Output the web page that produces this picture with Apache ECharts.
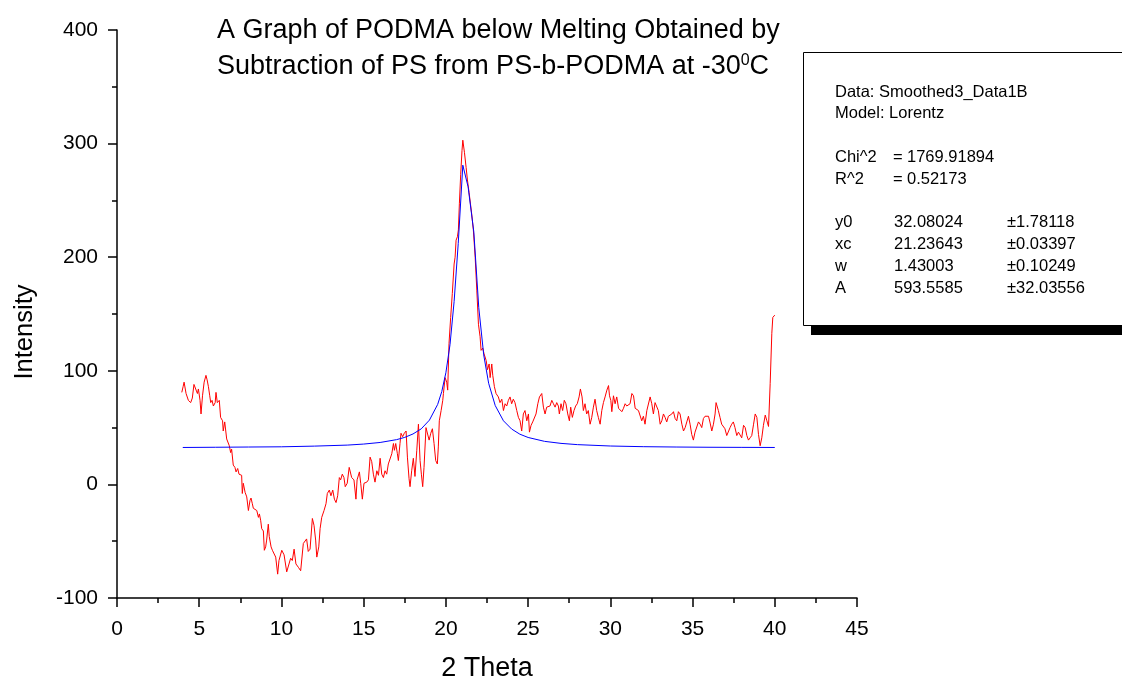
<!DOCTYPE html>
<html><head><meta charset="utf-8">
<script src="https://cdn.jsdelivr.net/npm/echarts@6/dist/echarts.min.js"></script>
<style>html,body{margin:0;padding:0;background:#fff}#c{width:1122px;height:684px}</style>
</head><body><div id="c"></div>
<script>
const redTheta = [3.94,4.02,4.08,4.2,4.34,4.48,4.58,4.68,4.8,4.89,4.95,5.05,5.11,5.2,5.3,5.41,5.48,5.56,5.64,5.7,5.78,5.86,5.97,6.02,6.1,6.22,6.3,6.42,6.46,6.55,6.67,6.77,6.83,6.91,6.97,7.07,7.17,7.24,7.34,7.42,7.52,7.58,7.62,7.68,7.79,7.89,7.99,8.09,8.15,8.23,8.29,8.39,8.5,8.6,8.66,8.74,8.8,8.9,8.96,9.04,9.1,9.2,9.26,9.37,9.45,9.55,9.65,9.77,9.85,
10.02,10.16,10.32,10.42,10.56,10.66,10.77,10.88,11.03,11.17,11.33,11.43,11.53,11.63,11.74,11.88,11.98,12.08,12.15,12.27,12.35,12.45,12.59,12.71,12.79,12.91,13.01,13.12,13.22,13.32,13.42,13.52,13.6,13.7,13.8,13.88,14.0,14.12,14.2,14.27,14.41,14.53,14.6,14.74,14.82,14.92,15.02,15.19,15.29,15.39,15.49,15.59,15.69,15.8,15.9,16.0,16.1,16.2,16.3,16.4,16.5,16.6,16.71,16.81,16.87,16.95,17.05,17.11,17.21,17.27,17.37,17.47,17.58,17.66,17.76,17.82,17.92,18.02,18.12,18.23,18.33,18.43,18.51,18.59,18.67,18.79,18.87,18.98,19.08,19.18,19.28,19.38,19.48,19.54,19.6,19.71,19.81,19.85,19.95,
20.05,20.11,20.19,20.29,20.39,20.5,20.56,20.62,20.7,20.76,20.82,20.9,20.98,21.03,21.13,21.23,21.31,21.41,21.47,21.57,21.67,21.78,21.88,21.98,22.08,22.14,22.24,22.32,22.45,22.53,22.63,22.69,22.79,22.85,22.95,23.05,23.19,23.29,23.4,23.5,23.6,23.7,23.8,23.9,24.0,24.1,24.2,24.31,24.41,24.51,24.61,24.71,24.81,24.92,25.02,25.08,25.18,25.28,25.38,25.48,25.59,25.69,25.83,25.93,26.03,26.13,26.23,26.33,26.44,26.54,26.64,26.74,26.84,26.9,27.0,27.1,27.2,27.3,27.41,27.51,27.59,27.69,27.79,27.89,27.99,28.1,28.18,28.28,28.36,28.46,28.56,28.66,28.77,28.87,28.97,29.07,29.17,29.27,29.38,29.48,29.58,29.68,29.79,29.89,29.95,
30.03,30.09,30.19,30.29,30.39,30.5,30.6,30.7,30.8,30.9,31.0,31.1,31.2,31.31,31.41,31.51,31.61,31.71,31.81,31.91,32.01,32.11,32.22,32.32,32.42,32.52,32.62,32.72,32.82,32.92,33.03,33.13,33.23,33.33,33.43,33.53,33.64,33.74,33.84,33.94,34.04,34.14,34.24,34.35,34.45,34.55,34.65,34.75,34.85,34.95,35.05,35.15,35.26,35.36,35.46,35.56,35.66,35.76,35.86,35.97,36.07,36.17,36.27,36.37,36.43,36.51,36.57,36.67,36.77,36.87,36.97,37.08,37.18,37.28,37.38,37.48,37.58,37.69,37.79,37.89,37.99,38.1,38.2,38.3,38.4,38.5,38.6,38.71,38.81,38.91,39.01,39.11,39.21,39.31,39.42,39.52,39.62,39.72,39.82,39.88,40.0];
const redIntensity = [81,86,90,80,74,72,76,88,88,80,84,74,62,78,90,96,92,86,78,72,74,69,72,81,72,74,59,56,47,55,40,41,34,28,31,17,15,11,14,9,8,8,-8,1,-7,-11,-23,-14,-12,-17,-21,-20,-23,-29,-26,-32,-39,-41,-58,-55,-49,-35,-46,-55,-58,-58,-64,-79,-67,
-58,-62,-77,-76,-65,-67,-57,-70,-73,-76,-52,-53,-48,-59,-57,-30,-36,-49,-64,-55,-39,-29,-23,-17,-8,-5,-10,-5,-13,-16,-10,6,4,9,6,-2,1,15,16,6,4,-13,4,11,1,-13,1,2,4,24,20,9,2,12,8,23,9,6,12,9,18,17,27,36,30,36,27,21,36,45,42,45,47,24,5,-2,12,23,7,30,53,21,9,-2,15,50,50,39,45,49,36,21,18,33,56,65,74,80,94,
90,83,124,147,168,194,200,215,218,224,247,273,294,303,292,279,268,257,257,238,224,200,171,141,130,118,120,115,109,101,106,94,106,96,86,80,77,72,75,65,71,69,74,77,71,75,72,65,59,56,47,62,65,56,62,46,52,55,56,62,71,77,80,68,62,68,67,69,74,71,68,72,69,62,71,65,74,71,62,56,68,59,65,69,71,77,84,77,65,71,62,65,53,59,68,75,65,59,53,65,72,77,83,87,78,
74,64,78,71,77,67,68,64,67,71,69,68,71,80,78,67,67,65,65,56,60,53,65,64,77,71,62,72,71,65,53,56,62,59,55,60,59,62,64,58,56,64,62,53,47,50,55,60,53,44,39,46,46,55,53,50,58,60,59,60,54,47,53,62,72,71,65,59,53,53,49,43,44,50,53,55,50,43,46,47,41,52,50,43,39,41,43,53,62,59,44,34,41,52,61,56,51,89,133,147,149];

// Lorentz fit curve
const fitTheta = [4,6,8,10,12,14,15,16,17,17.5,18,18.5,19,19.5,19.75,20,20.25,20.5,20.75,21.03,21.35,21.7,22,22.3,22.6,23,23.5,24,24.5,25,26,27,28,30,32,34,36,38,40];
const fitIntensity = [32.5,32.7,32.9,33.1,33.7,34.6,35.5,36.9,39.4,41.4,44.4,48.9,56.6,70.4,81.7,98.3,123,161,212,281,262,222,155.6,114,89,69.4,56,48.7,44.2,41.3,37.9,36.1,35,33.8,33.2,32.9,32.7,32.6,32.5];

const titleLine1 = 'A Graph of PODMA below Melting Obtained by';
const titleLine2 = 'Subtraction of PS from PS-b-PODMA at -30';
const xName = '2 Theta';
const yName = 'Intensity';
const boxLines = [
  ['Data: Smoothed3_Data1B', '', '', ''],
  ['Model: Lorentz', '', '', ''],
  ['Chi^2', '=', '1769.91894', ''],
  ['R^2', '=', '0.52173', ''],
  ['y0', '', '32.08024', '\u00b11.78118'],
  ['xc', '', '21.23643', '\u00b10.03397'],
  ['w', '', '1.43003', '\u00b10.10249'],
  ['A', '', '593.5585', '\u00b132.03556']
];

const FONT = "'Liberation Sans', Arial, Helvetica, sans-serif";
const chart = echarts.init(document.getElementById('c'), null, {renderer: 'canvas'});

const boxY = [92, 113, 157, 179, 222.5, 244, 266, 288];
const BF = '16.5px ' + FONT;
const boxTexts = [];
boxLines.forEach((row, i) => {
  boxTexts.push({type: 'text', x: 835, y: boxY[i], style: {text: row[0], font: BF, fill: '#000', textVerticalAlign: 'middle'}});
  if (row[1]) boxTexts.push({type: 'text', x: 893, y: boxY[i], style: {text: row[1], font: BF, fill: '#000', textVerticalAlign: 'middle'}});
  if (row[2]) boxTexts.push({type: 'text', x: row[1] ? 907 : 894, y: boxY[i], style: {text: row[2], font: BF, fill: '#000', textVerticalAlign: 'middle'}});
  if (row[3]) boxTexts.push({type: 'text', x: 1007, y: boxY[i], style: {text: row[3], font: BF, fill: '#000', textVerticalAlign: 'middle'}});
});

const option = {
  animation: false,
  backgroundColor: '#fff',
  grid: {left: 117, right: 265, top: 30, bottom: 86, containLabel: false, outerBoundsMode: 'none'},
  xAxis: {
    type: 'value', min: 0, max: 45, interval: 5,
    axisLine: {show: true, onZero: false, lineStyle: {color: '#000', width: 1.5}},
    axisTick: {show: true, inside: false, length: 9, lineStyle: {color: '#000', width: 1.5}},
    minorTick: {show: true, splitNumber: 2, length: 5, lineStyle: {color: '#000', width: 1.5}},
    splitLine: {show: false},
    axisLabel: {color: '#000', fontSize: 21, fontFamily: FONT, margin: 21},
    name: xName, nameLocation: 'middle', nameGap: 57,
    nameTextStyle: {color: '#000', fontSize: 27, fontFamily: FONT}
  },
  yAxis: {
    type: 'value', min: -100, max: 400, interval: 100,
    axisLine: {show: true, onZero: false, lineStyle: {color: '#000', width: 1.5}},
    axisTick: {show: true, inside: false, length: 9, lineStyle: {color: '#000', width: 1.5}},
    minorTick: {show: true, splitNumber: 2, length: 5, lineStyle: {color: '#000', width: 1.5}},
    splitLine: {show: false},
    axisLabel: {color: '#000', fontSize: 21, fontFamily: FONT, margin: 19}
  },
  series: [
    {
      type: 'line', name: 'data', showSymbol: false, symbol: 'none',
      data: redTheta.map((x, i) => [x, redIntensity[i]]),
      lineStyle: {color: '#ff0000', width: 1}, z: 2
    },
    {
      type: 'line', name: 'fit', showSymbol: false, symbol: 'none', smooth: false,
      data: fitTheta.map((x, i) => [x, fitIntensity[i]]),
      lineStyle: {color: '#0000ff', width: 1}, z: 3
    }
  ],
  graphic: [
    {type: 'text', x: 217, y: 31, style: {text: titleLine1, font: '27px ' + FONT, fill: '#000', textVerticalAlign: 'middle'}},
    {type: 'text', x: 217, y: 67, style: {
      text: '{n|' + titleLine2 + '}{s|0}{n|C}',
      textVerticalAlign: 'middle',
      rich: {
        n: {fontSize: 27, fontFamily: FONT, fill: '#000', color: '#000'},
        s: {fontSize: 16, fontFamily: FONT, fill: '#000', color: '#000', verticalAlign: 'top', padding: [0, 0, 13, 0]}
      }
    }},
    {type: 'text', x: 25, y: 332, rotation: Math.PI / 2, style: {text: yName, font: '25.5px ' + FONT, fill: '#000', textAlign: 'center', textVerticalAlign: 'middle'}},
    {type: 'rect', shape: {x: 811, y: 60, width: 330, height: 275}, style: {fill: '#000'}, z: 10},
    {type: 'rect', shape: {x: 803.5, y: 52.5, width: 340, height: 273}, style: {fill: '#fff', stroke: '#000', lineWidth: 1}, z: 11},
    ...boxTexts.map(t => Object.assign(t, {z: 12}))
  ]
};
chart.setOption(option);
</script>
</body></html>
